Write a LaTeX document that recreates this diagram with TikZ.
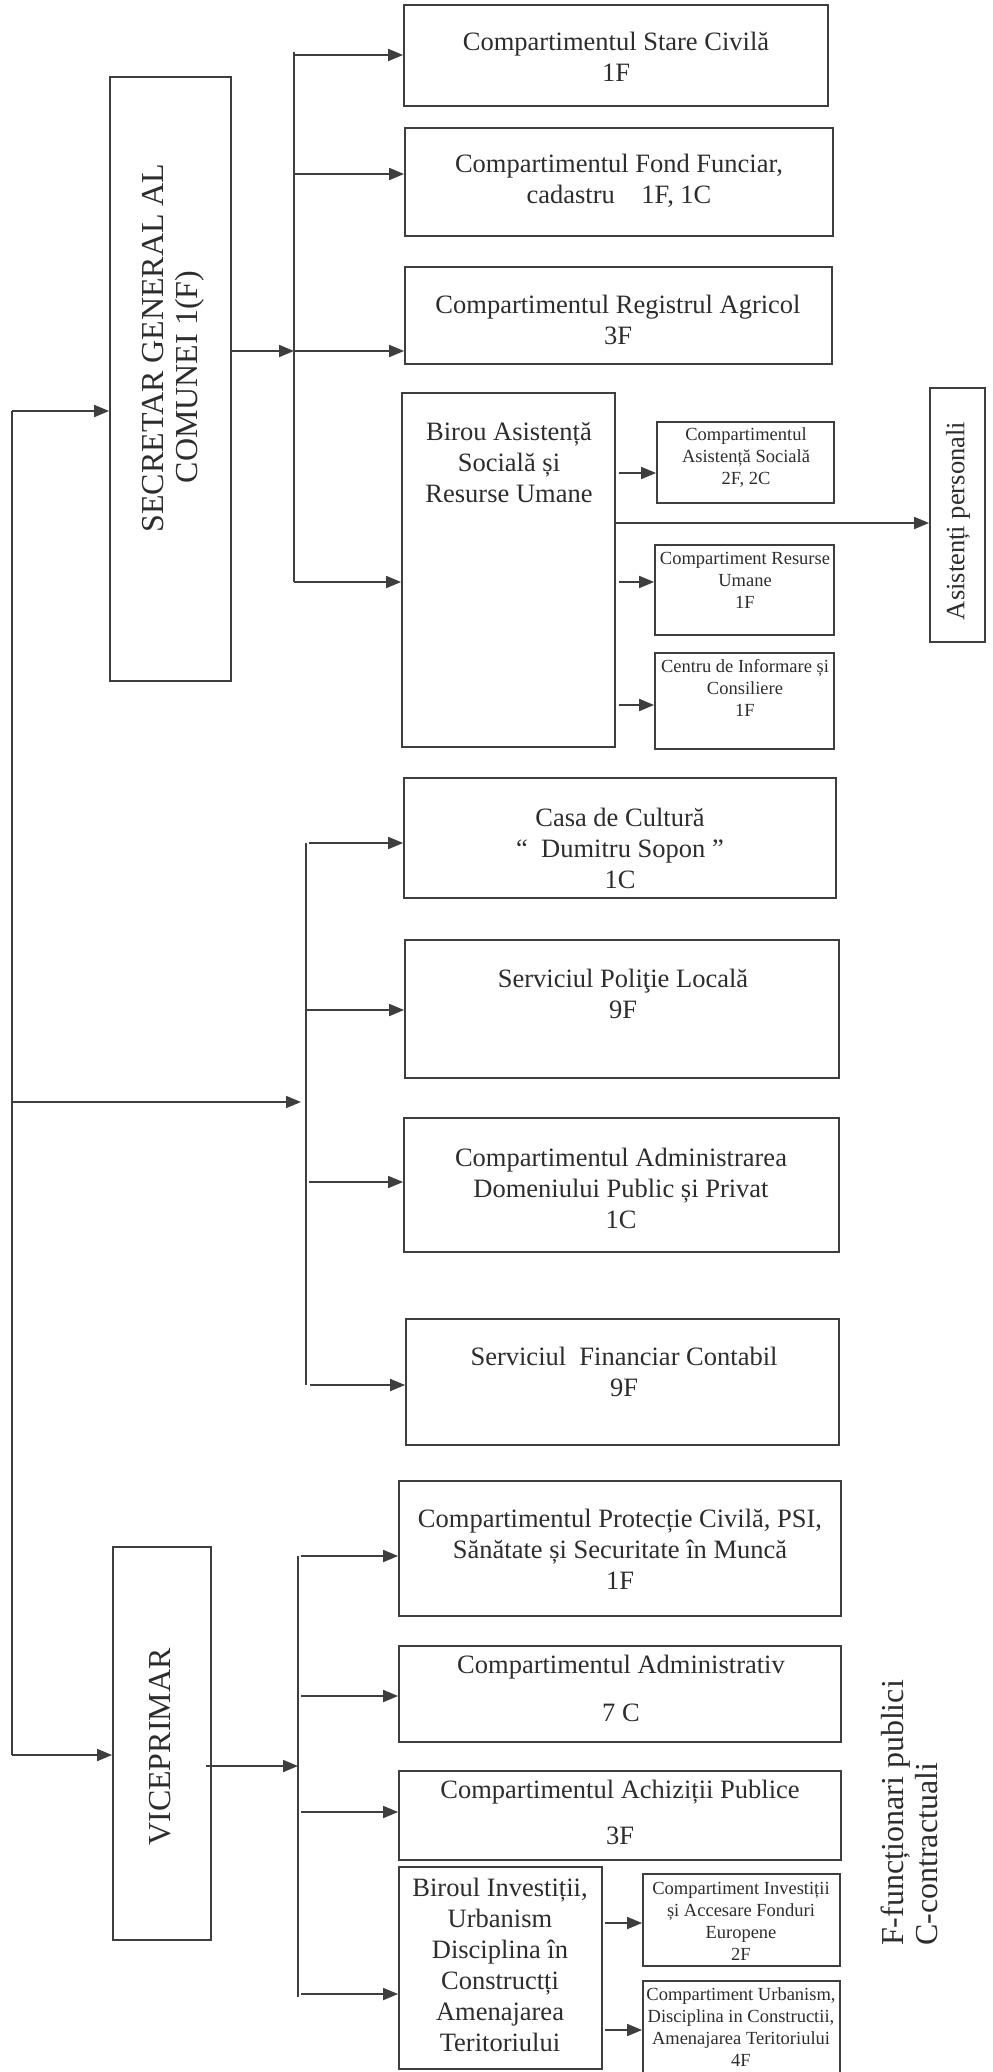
\documentclass[tikz,border=0pt]{standalone}
\usepackage{fontspec}
\setmainfont{Liberation Serif}
\usetikzlibrary{arrows.meta,fit}
\definecolor{ink}{RGB}{62,62,62}
\definecolor{txt}{RGB}{45,45,45}
\newcommand\fntMain{\fontsize{26.5}{31}\selectfont}
\newcommand\fntSmall{\fontsize{18.5}{22}\selectfont}
\newcommand\fntBig{\fontsize{32}{34}\selectfont}
\begin{document}
\begin{tikzpicture}[x=1pt,y=-1pt,
  box/.style={draw=ink, line width=1.8pt, inner sep=0pt},
  lbl/.style={text=txt, align=center, inner sep=0pt},
  con/.style={draw=ink, line width=1.8pt},
  arr/.style={con, -{Triangle[length=15pt,width=12pt]}}]
\useasboundingbox (0,0) rectangle (993,2072);
\fill[white] (0,0) rectangle (993,2072);

% ---------- boxes ----------
\node[box, fit={(110,77) (231,681)}] (sec) {};
\node[box, fit={(404,5) (828,106)}] (sc) {};
\node[box, fit={(405,128) (833,236)}] (ff) {};
\node[box, fit={(405,267) (832,364)}] (ra) {};
\node[box, fit={(402,393) (615,747)}] (bas) {};
\node[box, fit={(657,422) (834,503)}] (cas) {};
\node[box, fit={(655,545) (834,635)}] (cru) {};
\node[box, fit={(655,653) (834,749)}] (cic) {};
\node[box, fit={(930,388) (985,642)}] (ap) {};
\node[box, fit={(404,778) (836,898)}] (cc) {};
\node[box, fit={(405,940) (839,1078)}] (pl) {};
\node[box, fit={(404,1118) (839,1252)}] (adp) {};
\node[box, fit={(406,1319) (839,1445)}] (sfc) {};
\node[box, fit={(113,1547) (211,1940)}] (vp) {};
\node[box, fit={(399,1481) (841,1616)}] (pc) {};
\node[box, fit={(399,1646) (841,1742)}] (adm) {};
\node[box, fit={(399,1771) (841,1860)}] (ach) {};
\node[box, fit={(399,1867) (602,2069)}] (biu) {};
\node[box, fit={(643,1874) (840,1966)}] (cia) {};
\node[box, fit={(643,1981) (840,2090)}] (cua) {};

% ---------- texts ----------
\node[lbl, rotate=90, font=\fntBig] (secA) at (153,348) {SECRETAR GENERAL AL};
\node[lbl, rotate=90, font=\fntBig] (secB) at (190,377) {COMUNEI 1(F)};
\node[lbl, font=\fntMain] (sct) at (616,57) {Compartimentul Stare Civilă\\1F};
\node[lbl, font=\fntMain] (fft) at (619,181) {Compartimentul Fond Funciar,\\cadastru\quad 1F, 1C};
\node[lbl, font=\fntMain] (rat) at (618,320) {Compartimentul Registrul Agricol\\3F};
\node[lbl, font=\fntMain] (bast) at (509,463) {Birou Asistență\\Socială și\\Resurse Umane};
\node[lbl, font=\fntSmall] (cast) at (746,457) {Compartimentul\\Asistență Socială\\2F, 2C};
\node[lbl, font=\fntSmall] (crut) at (745,580) {Compartiment Resurse\\Umane\\1F};
\node[lbl, font=\fntSmall] (cict) at (745,688) {Centru de Informare și\\Consiliere\\1F};
\node[lbl, rotate=90, font=\fntMain] (apt) at (958,521) {Asistenți personali};
\node[lbl, font=\fntMain] (cct) at (620,848) {Casa de Cultură\\“\ \ Dumitru Sopon ”\\1C};
\node[lbl, font=\fntMain] (plt) at (623,994) {Serviciul Poliţie Locală\\9F};
\node[lbl, font=\fntMain] (adpt) at (621,1188) {Compartimentul Administrarea\\Domeniului Public și Privat\\1C};
\node[lbl, font=\fntMain] (sfct) at (624,1372) {Serviciul\ \ Financiar Contabil\\9F};
\node[lbl, rotate=90, font=\fntBig] (vpt) at (160,1747) {VICEPRIMAR};
\node[lbl, font=\fntMain] (pct) at (620,1549) {Compartimentul Protecție Civilă, PSI,\\Sănătate și Securitate în Muncă\\1F};
\node[lbl, font=\fntMain] (admt) at (621,1688) {Compartimentul Administrativ\\[17pt]7 C};
\node[lbl, font=\fntMain] (acht) at (620,1812) {Compartimentul Achiziții Publice\\[15pt]3F};
\node[lbl, font=\fntMain, text depth=0pt] (biut) at (500,1965) {Biroul Investiții,\\Urbanism\\Disciplina în\\Constructți\\Amenajarea\\Teritoriului};
\node[lbl, font=\fntSmall] (ciat) at (741,1921) {Compartiment Investiții\\și Accesare Fonduri\\Europene\\2F};
\node[lbl, font=\fntSmall] (cuat) at (741,2027) {Compartiment Urbanism,\\Disciplina in Constructii,\\Amenajarea Teritoriului\\4F};
\node[lbl, rotate=90, font=\fntBig, align=left, anchor=west] (legend) at (909,1946) {F-funcționari publici\\C-contractuali};

% ---------- left spine ----------
\coordinate (L1) at (12,411);
\coordinate (Lm) at (12,1102);
\coordinate (L2) at (12,1755);
\draw[con] (L1) -- (L2);
\draw[arr] (L1) -- (L1 -| sec.west);
\draw[arr] (L2) -- (L2 -| vp.west);

% ---------- top bus ----------
\coordinate (tTop) at (294,52);
\coordinate (t1) at (294,55);
\coordinate (t2) at (294,174);
\coordinate (t3) at (294,351);
\coordinate (t4) at (294,582);
\draw[con] (tTop) -- (t4);
\draw[arr] (t3 -| sec.east) -- (t3);
\draw[arr] (t1) -- (t1 -| sc.west);
\draw[arr] (t2) -- (t2 -| ff.west);
\draw[arr] (t3) -- (t3 -| ra.west);
\draw[arr] (t4) -- (t4 -| bas.west);

% ---------- birou asistenta ----------
\coordinate (yb1) at (0,473);
\coordinate (yb2) at (0,523);
\coordinate (yb3) at (0,582);
\coordinate (yb4) at (0,705);
\draw[arr] ([xshift=3pt]yb1 -| bas.east) -- (yb1 -| cas.west);
\draw[arr] (yb2 -| bas.east) -- (yb2 -| ap.west);
\draw[arr] ([xshift=3pt]yb3 -| bas.east) -- (yb3 -| cru.west);
\draw[arr] ([xshift=3pt]yb4 -| bas.east) -- (yb4 -| cic.west);

% ---------- middle bus ----------
\coordinate (m1) at (306,843);
\coordinate (m2) at (306,1010);
\coordinate (m3) at (306,1182);
\coordinate (m4) at (306,1385);
\draw[con] (m1) -- (m4);
\draw[arr] (Lm) -- ([xshift=-5pt]Lm -| m1);
\draw[arr] ([xshift=3pt]m1) -- (m1 -| cc.west);
\draw[arr] (m2) -- (m2 -| pl.west);
\draw[arr] ([xshift=3pt]m3) -- (m3 -| adp.west);
\draw[arr] ([xshift=4pt]m4) -- (m4 -| sfc.west);

% ---------- bottom bus ----------
\coordinate (yv) at (0,1766);
\coordinate (v1) at (298,1556);
\coordinate (v2) at (298,1696);
\coordinate (v3) at (298,1812);
\coordinate (v4) at (298,1994);
\coordinate (vBot) at (298,1997);
\draw[con] (v1) -- (vBot);
\draw[arr] ([xshift=-6pt]yv -| vp.east) -- (yv -| v1);
\draw[arr] ([xshift=3pt]v1) -- (v1 -| pc.west);
\draw[arr] ([xshift=3pt]v2) -- (v2 -| adm.west);
\draw[arr] ([xshift=3pt]v3) -- (v3 -| ach.west);
\draw[arr] ([xshift=3pt]v4) -- (v4 -| biu.west);

% ---------- birou investitii ----------
\coordinate (yi1) at (0,1923);
\coordinate (yi2) at (0,2030);
\draw[arr] ([xshift=2pt]yi1 -| biu.east) -- (yi1 -| cia.west);
\draw[arr] ([xshift=2pt]yi2 -| biu.east) -- (yi2 -| cua.west);
\end{tikzpicture}
\end{document}
